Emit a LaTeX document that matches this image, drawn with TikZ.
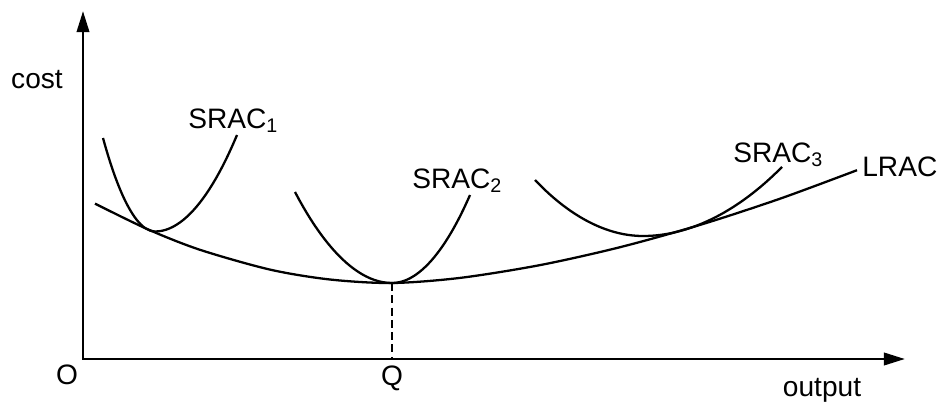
\documentclass[tikz,border=0pt]{standalone}
\usepackage{fontspec}
\setmainfont{Liberation Sans}
\usetikzlibrary{arrows.meta}

\begin{document}
\begin{tikzpicture}[
  x=0.02cm, y=-0.02cm,
  font=\fontsize{16}{19}\selectfont,
  asse/.style={draw=black, line width=1.6pt,
               {Triangle[length=12pt,width=7pt]}-{Triangle[length=12pt,width=7pt]}},
  curva/.style={draw=black, line width=1.3pt},
  tratto/.style={draw=black, line width=0.8pt, dash pattern=on 4.5pt off 2.5pt},
  etichetta/.style={inner sep=0pt}
]
\useasboundingbox (0,0) rectangle (942,412);

%--------------------------------------------------------------
% Assi
%--------------------------------------------------------------
\coordinate (origine) at (83,359);
\coordinate (cimay) at (83,11);
\coordinate (cimax) at (905,359);
\draw[asse] (cimay) -- (origine) -- (cimax);

\node[etichetta] (costo) at (37,80) {cost};
\node[etichetta] (zero) at (67,375) {O};
\node[etichetta] (prod) at (822,390) {output};

%--------------------------------------------------------------
% Curva di lungo periodo
%--------------------------------------------------------------
\draw[curva] plot[smooth] coordinates {(95,203.6) (148,229.4) (200,249.8)
  (270,269.6) (330,279.5) (392,283) (460,277.9) (540,265.1) (620,247.2)
  (700,224.9) (780,198.7) (857,170.2)};
\node[etichetta, anchor=west] (lrac) at (862,167) {LRAC};

%--------------------------------------------------------------
% Curve di breve periodo
%--------------------------------------------------------------
\coordinate (minimo) at (392,283);
\coordinate (q) at (392,359);

\draw[curva] (103,138) parabola bend (155,231.5) (237,135);
\draw[curva] (295,192) parabola bend (minimo) (470,195);
\draw[curva] (535,180) parabola bend (643,236) (782,167);

\node[etichetta, anchor=base west] (srac1) at (188,128) {SRAC\textsubscript{1}};
\node[etichetta, anchor=base west] (srac2) at (412,188) {SRAC\textsubscript{2}};
\node[etichetta, anchor=base west] (srac3) at (733,162) {SRAC\textsubscript{3}};

%--------------------------------------------------------------
% Livello Q
%--------------------------------------------------------------
\draw[tratto] (minimo) -- (q);
\node[etichetta] (livq) at (392,378) {Q};

\end{tikzpicture}
\end{document}
